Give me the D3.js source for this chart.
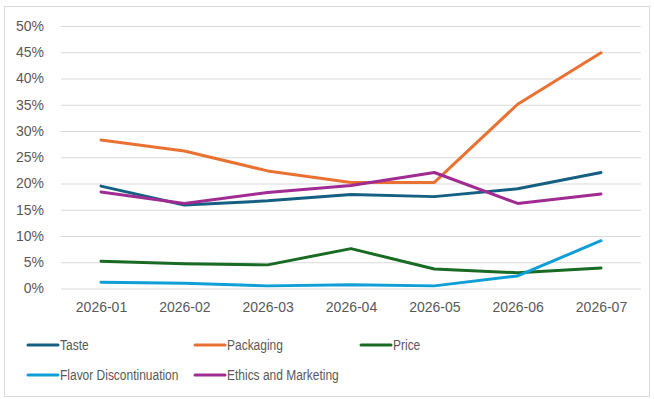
<!DOCTYPE html>
<html><head><meta charset="utf-8">
<script src="https://cdn.jsdelivr.net/npm/d3@7"></script>
<style>body{margin:0;background:#fff}svg{display:block}</style>
</head><body><svg id="c" width="654" height="399"></svg>
<script>
const months = ["2026-01","2026-02","2026-03","2026-04","2026-05","2026-06","2026-07"];
const yTicks = [0,0.05,0.10,0.15,0.20,0.25,0.30,0.35,0.40,0.45,0.50];
const seriesNames = ["Taste","Packaging","Price","Flavor Discontinuation","Ethics and Marketing"];
const taste = [0.195,0.159,0.167,0.179,0.175,0.190,0.221];
const packaging = [0.283,0.262,0.224,0.202,0.202,0.351,0.449];
const price = [0.052,0.047,0.045,0.076,0.037,0.030,0.039];
const flavor = [0.012,0.010,0.005,0.007,0.005,0.024,0.091];
const ethics = [0.184,0.162,0.183,0.196,0.221,0.162,0.180];
const colors = ["#156082","#E97132","#196B24","#0F9ED5","#A02B93"];

const svg = d3.select("#c");
svg.append("rect").attr("x",4.5).attr("y",6.5).attr("width",645).attr("height",390)
  .attr("fill","#fff").attr("stroke","#d9d9d9");
const x = d3.scalePoint().domain(months).range([101,601]);
const y = d3.scaleLinear().domain([0,0.5]).range([288.5,26]);
const gx0 = 61, gx1 = 641;
const yAxis = d3.axisLeft(y).tickValues(yTicks).tickFormat(d3.format(".0%")).tickSize(gx1-gx0).tickPadding(17);
const gy = svg.append("g").attr("transform",`translate(${gx1},0)`).call(yAxis);
gy.select(".domain").remove();
gy.selectAll(".tick line").attr("stroke","#d9d9d9");
gy.selectAll(".tick text").attr("fill","#595959").style("font","14px 'Liberation Sans', Arial, sans-serif");
const xAxis = d3.axisBottom(x).tickSize(0).tickPadding(14);
const gxa = svg.append("g").attr("transform",`translate(0,288.5)`).call(xAxis);
gxa.select(".domain").remove();
gxa.selectAll(".tick text").attr("fill","#595959").style("font","14px 'Liberation Sans', Arial, sans-serif");

const all = [taste,packaging,price,flavor,ethics];
const line = d3.line().x((d,i)=>x(months[i])).y(d=>y(d));
all.forEach((s,k)=>{
  svg.append("path").datum(s).attr("d",line).attr("fill","none")
    .attr("stroke",colors[k]).attr("stroke-width",3).attr("stroke-linejoin","round").attr("stroke-linecap","round");
});
const legPos = [[28,345],[195,345],[361,345],[28,375],[195,375]];
seriesNames.forEach((n,k)=>{
  const [lx,ly] = legPos[k];
  svg.append("line").attr("x1",lx).attr("x2",lx+30).attr("y1",ly).attr("y2",ly)
    .attr("stroke",colors[k]).attr("stroke-width",3).attr("stroke-linecap","round");
  const t = svg.append("text").attr("x",lx+32).attr("y",ly+5).text(n).attr("fill","#595959")
    .style("font","14px 'Liberation Sans', Arial, sans-serif");
  const w = t.node().getComputedTextLength();
  t.attr("textLength", w*0.855).attr("lengthAdjust","spacingAndGlyphs");
});
</script></body></html>
